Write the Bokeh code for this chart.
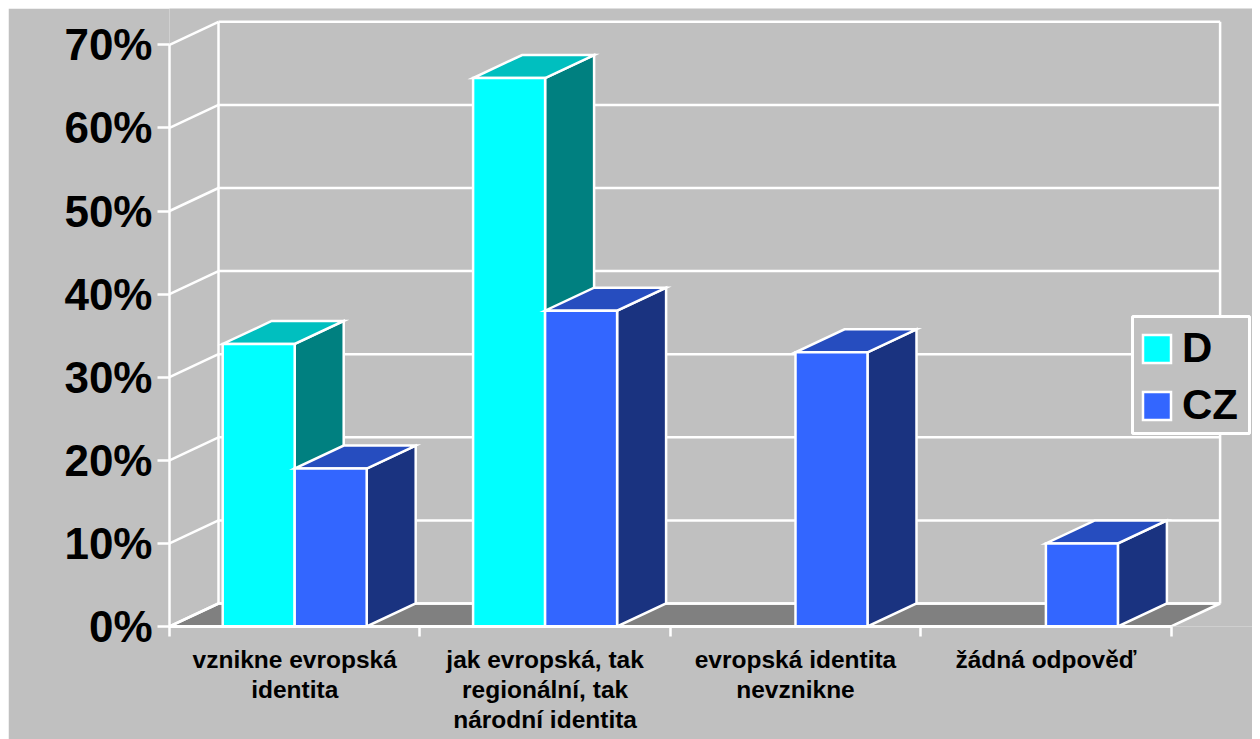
from bokeh.plotting import figure
from bokeh.models import FixedTicker, PrintfTickFormatter, Legend, LegendItem, Range1d, BoxAnnotation
from bokeh.embed import file_html
from bokeh.resources import INLINE

categories = ["vznikne evropská\nidentita",
              "jak evropská, tak\nregionální, tak\nnárodní identita",
              "evropská identita\nnevznikne",
              "žádná odpověď"]
series_d = [34, 66, None, None]
series_cz = [19, 38, 33, 10]
y_ticks = [0, 10, 20, 30, 40, 50, 60, 70]

BG = "#C0C0C0"
WHITE = "#FFFFFF"
PX_X = 250.4       # pixels per category
PX_Y = 8.31        # pixels per percentage point
DX = 49 / PX_X     # depth offset, categories
DY = 23 / PX_Y     # depth offset, percent
BAR = 72 / PX_X    # bar width, categories
LW = 2.5

FW, FH = 1083, 618
p = figure(width=1244, height=731, output_backend="svg", toolbar_location=None,
           margin=(8, 0, 0, 8),
           x_range=Range1d(0, FW / PX_X), y_range=Range1d(0, FH / PX_Y),
           background_fill_color=BG, border_fill_color=BG,
           min_border_left=161, min_border_right=0, min_border_top=0, min_border_bottom=113,
           frame_width=FW, frame_height=FH)
p.outline_line_color = None
p.grid.visible = False

# axes
y = p.yaxis[0]
y.ticker = FixedTicker(ticks=y_ticks)
y.formatter = PrintfTickFormatter(format="%d%%")
y.bounds = (0, 70)
y.axis_line_color = WHITE
y.axis_line_width = LW
y.major_tick_line_color = WHITE
y.major_tick_line_width = LW
y.major_tick_out = 12
y.major_tick_in = 0
y.minor_tick_line_color = None
y.major_label_standoff = 5
y.major_label_text_font = "Liberation Sans"
y.major_label_text_font_style = "bold"
y.major_label_text_font_size = "44px"
y.major_label_text_color = "#000000"

x = p.xaxis[0]
n = len(categories)
centers = [i + 0.5 for i in range(n)]
x.ticker = FixedTicker(ticks=centers, minor_ticks=list(range(n + 1)))
x.major_label_overrides = {c: t for c, t in zip(centers, categories)}
x.bounds = (0, n)
x.axis_line_color = WHITE
x.axis_line_width = 3
x.major_tick_line_color = None
x.major_tick_out = 0
x.major_tick_in = 0
x.minor_tick_line_color = WHITE
x.minor_tick_line_width = LW
x.minor_tick_out = 10
x.minor_tick_in = 0
x.major_label_standoff = 9
x.major_label_text_font = "Liberation Sans"
x.major_label_text_font_style = "bold"
x.major_label_text_font_size = "24.5px"
x.major_label_text_line_height = 1.127
x.major_label_text_color = "#000000"

# floor
p.patch([0, DX, n + DX, n], [0, DY, DY, 0], fill_color="#808080", line_color=WHITE, line_width=LW)

# walls
p.segment(x0=[0] * len(y_ticks), y0=y_ticks, x1=[DX] * len(y_ticks), y1=[v + DY for v in y_ticks],
          line_color=WHITE, line_width=LW)
p.segment(x0=[DX] * len(y_ticks), y0=[v + DY for v in y_ticks],
          x1=[n + DX] * len(y_ticks), y1=[v + DY for v in y_ticks],
          line_color=WHITE, line_width=LW)
p.segment(x0=[DX, n + DX], y0=[DY, DY], x1=[DX, n + DX], y1=[70 + DY, 70 + DY],
          line_color=WHITE, line_width=LW)


def bars(values, offset, front, side, top):
    xs, vs = [], []
    for i, v in enumerate(values):
        if v is not None:
            xs.append(i + 0.5 + offset * BAR)
            vs.append(v)
    l = xs
    r = [a + BAR for a in xs]
    p.patches([[a, a + DX, a + DX, a] for a in r],
              [[0, DY, v + DY, v] for v in vs],
              fill_color=side, line_color=WHITE, line_width=LW, line_join="miter")
    p.patches([[a, b, b + DX, a + DX] for a, b in zip(l, r)],
              [[v, v, v + DY, v + DY] for v in vs],
              fill_color=top, line_color=WHITE, line_width=LW, line_join="miter")
    return p.quad(left=l, right=r, bottom=[0] * len(vs), top=vs,
                  fill_color=front, line_color=WHITE, line_width=LW, line_join="miter")


rd = bars(series_d, -1, "#00FFFF", "#008080", "#00BFBF")
rc = bars(series_cz, 0, "#3366FF", "#1A3380", "#264DBF")

box = BoxAnnotation(left=1124, right=1241, top=308, bottom=425,
                    left_units="canvas", right_units="canvas", top_units="canvas", bottom_units="canvas",
                    fill_color=BG, fill_alpha=1, line_color=WHITE, line_width=3, line_alpha=1,
                    editable=False)
p.add_layout(box)

legend = Legend(items=[LegendItem(label="D", renderers=[rd]), LegendItem(label="CZ", renderers=[rc])],
                location=(963, 190), orientation="vertical",
                background_fill_alpha=0, border_line_color=WHITE, border_line_alpha=0,
                glyph_width=35, glyph_height=35,
                label_text_font="Liberation Sans", label_text_font_style="bold",
                label_text_font_size="42px", label_text_color="#000000",
                label_standoff=8, padding=7, spacing=9, margin=0)
p.add_layout(legend, "center")

open("out.html", "w").write(file_html(p, INLINE))
